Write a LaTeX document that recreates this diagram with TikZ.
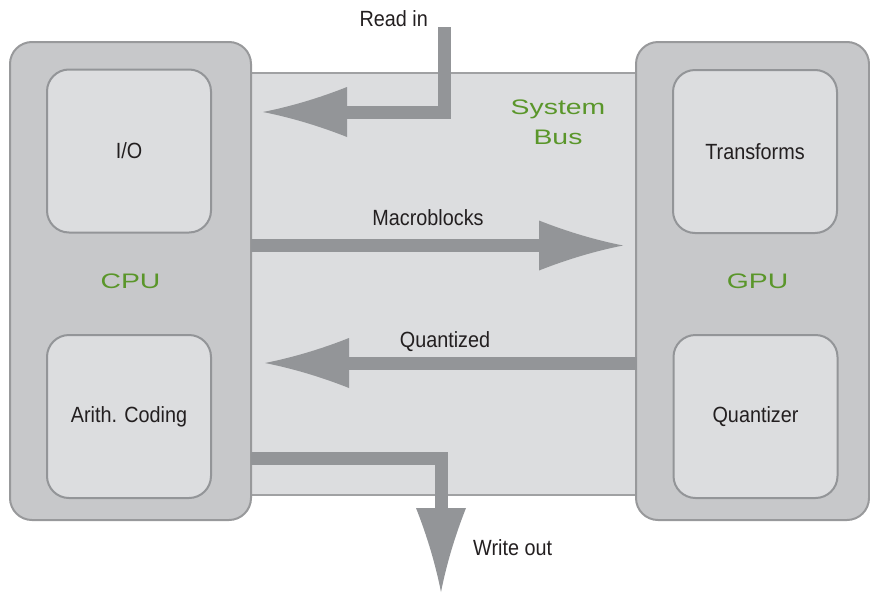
\documentclass[tikz,border=0pt]{standalone}
\usepackage{fontspec}
\usetikzlibrary{arrows.meta}

\newfontfamily\labelfont[FakeStretch=0.9]{Liberation Sans}
\newfontfamily\unitfont[FakeStretch=1.35]{Liberation Sans}

\definecolor{outergray}{HTML}{C7C8CA}
\definecolor{outerline}{HTML}{98999B}
\definecolor{innergray}{HTML}{DCDDDF}
\definecolor{innerline}{HTML}{939598}
\definecolor{busline}{HTML}{A0A1A3}
\definecolor{arrowgray}{HTML}{939598}
\definecolor{unitgreen}{HTML}{5A962A}
\definecolor{textblack}{HTML}{231F20}

% wide head with hollow sides
\pgfdeclarearrow{
	name = BusTip,
	parameters = {\the\pgfarrowlength,\the\pgfarrowwidth},
	setup code = {
		\pgfarrowssettipend{0pt}
		\pgfarrowssetbackend{-\pgfarrowlength}
		\pgfarrowssetlineend{-.5\pgfarrowlength}
		\pgfarrowsupperhullpoint{0pt}{0pt}
		\pgfarrowsupperhullpoint{-\pgfarrowlength}{.5\pgfarrowwidth}
		\pgfarrowssavethe\pgfarrowlength
		\pgfarrowssavethe\pgfarrowwidth
	},
	drawing code = {
		\pgfpathmoveto{\pgfpointorigin}
		\pgfpathcurveto{\pgfpoint{-.33\pgfarrowlength}{.11\pgfarrowwidth}}{\pgfpoint{-.67\pgfarrowlength}{.28\pgfarrowwidth}}{\pgfpoint{-\pgfarrowlength}{.5\pgfarrowwidth}}
		\pgfpathlineto{\pgfpoint{-\pgfarrowlength}{-.5\pgfarrowwidth}}
		\pgfpathcurveto{\pgfpoint{-.67\pgfarrowlength}{-.28\pgfarrowwidth}}{\pgfpoint{-.33\pgfarrowlength}{-.11\pgfarrowwidth}}{\pgfpointorigin}
		\pgfpathclose
		\pgfusepathqfill
	},
	defaults = {length = 84pt, width = 50pt}
}

\begin{document}
\begin{tikzpicture}[x=1pt,y=-1pt,
	unit/.style={draw=outerline,fill=outergray,line width=2pt,rounded corners=22pt,minimum width=241pt,minimum height=478pt,font=\unitfont\fontsize{21}{30}\selectfont,text=unitgreen},
	block/.style={draw=innerline,fill=innergray,line width=2pt,rounded corners=22pt,minimum width=164pt,minimum height=163pt,font=\labelfont\fontsize{22}{26}\selectfont,text=textblack},
	flow/.style={draw=arrowgray,line width=13pt,line join=miter,-{BusTip[fill=arrowgray]}},
	tag/.style={font=\labelfont\fontsize{22}{26}\selectfont,text=textblack,inner sep=0pt}]
	
	%\draw[help lines] (0,0) grid[step=10pt] (870,592);
	\useasboundingbox (0,0) rectangle (870,592);
	
	\node[draw=busline,fill=innergray,line width=2pt,minimum width=386pt,minimum height=422pt] (bus) at (444,284) {};
	\node[font=\unitfont\fontsize{21}{30}\selectfont,text=unitgreen,align=center] (busname) at (558,122) {System\\Bus};
	
	\node[unit] (cpu) at (130.5,281) {CPU};
	\node[unit,minimum width=233pt] (gpu) at (752.5,281) {\hspace*{10pt}GPU};
	
	\node[block] (io) at (129,151) {I/O};
	\node[block] (arith) at (129,416.5) {Arith. Coding};
	\node[block] (transforms) at (755,151.5) {Transforms};
	\node[block] (quantizer) at (755.5,416.5) {Quantizer};
	
	\coordinate (readin) at (444.5,27);
	\coordinate (ioin) at (263,112);
	\coordinate (mbout) at (251,245.5);
	\coordinate (mbin) at (623,245.5);
	\coordinate (qout) at (637,363);
	\coordinate (qin) at (265,363);
	\coordinate (wout) at (251,458.5);
	\coordinate (writeout) at (441,592);
	
	\draw[flow] (readin) |- (ioin);
	\draw[flow] (mbout) -- (mbin);
	\draw[flow] (qout) -- (qin);
	\draw[flow] (wout) -| (writeout);
	
	\node[tag,anchor=east] (readlbl) at (428,19) {Read in};
	\node[tag] (mblbl) at (428,218) {Macroblocks};
	\node[tag] (qlbl) at (445,342) {Quantized};
	\node[tag,anchor=west] (writelbl) at (473,548) {Write out};
	
\end{tikzpicture}
\end{document}
